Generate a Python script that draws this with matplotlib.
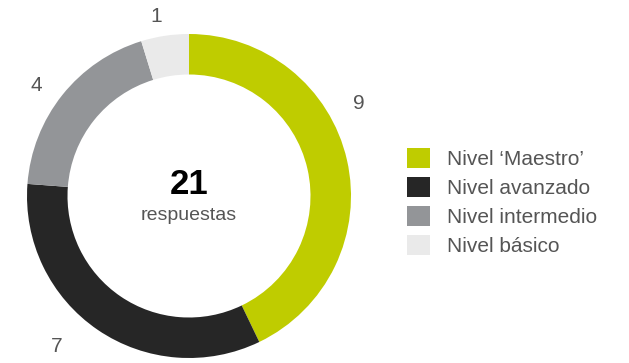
import matplotlib.pyplot as plt
from matplotlib.patches import Patch

plt.rcParams['font.family'] = ['Liberation Sans', 'DejaVu Sans']

niveles = ["Nivel \u2018Maestro\u2019", "Nivel avanzado", "Nivel intermedio", "Nivel b\u00e1sico"]
respuestas = [9, 7, 4, 1]
colores = ["#bfcc00", "#262626", "#939598", "#eaeaea"]
total = sum(respuestas)

fig = plt.figure(figsize=(6.29, 3.63), dpi=100)

# donut: centre ~(189, 196) px, outer radius ~162 px
R_PX = 162
ax = fig.add_axes([19 / 629, -3 / 363, 340 / 629, 340 / 363])
wedges, textos = ax.pie(respuestas, colors=colores, startangle=90, counterclock=False,
                        labels=[str(v) for v in respuestas],
                        wedgeprops=dict(width=0.25, linewidth=0),
                        textprops=dict(fontsize=15, color="#555555"))
ax.set_xlim(-170 / R_PX, 170 / R_PX)
ax.set_ylim(-170 / R_PX, 170 / R_PX)
ax.set_aspect("equal")
ax.axis("off")

# numbers sit a little off the wedge mid-angles
pos_etiquetas = [(1.05, 0.57), (-0.815, -0.93), (-0.945, 0.685), (-0.205, 1.11)]
for t, p in zip(textos, pos_etiquetas):
    t.set_position(p)
    t.set_ha("center")
    t.set_va("center")

ax.text(0, 0.07, str(total), ha="center", va="center", fontsize=25,
        fontweight="bold", color="black")
ax.text(0, -0.12, "respuestas", ha="center", va="center", fontsize=14, color="#555555")

handles = [Patch(facecolor=c, edgecolor="none") for c in colores]
fig.legend(handles, niveles, loc="upper left", bbox_to_anchor=(407 / 629, 1 - 148 / 363),
           frameon=False, fontsize=15, handlelength=1.1, handleheight=1.1,
           handletextpad=0.8, labelspacing=0.38, borderpad=0, borderaxespad=0,
           labelcolor="#555555")

fig.savefig("out.png", dpi=100)
